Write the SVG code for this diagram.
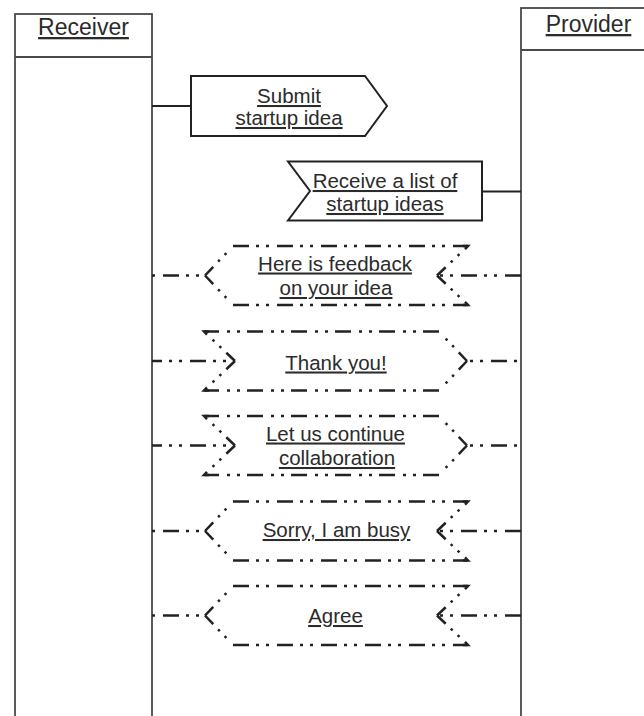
<svg xmlns="http://www.w3.org/2000/svg" xmlns:xlink="http://www.w3.org/1999/xlink" width="644" height="716" viewBox="0 0 644 716">
  <style>
    .lane { fill: #ffffff; stroke: #4a4a4a; stroke-width: 1.8; }
    .sep { stroke: #4a4a4a; stroke-width: 1.8; }
    .head { font-family: "Liberation Sans", Arial, sans-serif; font-size: 23px; fill: #2b2b2b; text-anchor: middle; text-decoration: underline; }
    .lbl { font-family: "Liberation Sans", Arial, sans-serif; font-size: 20.5px; fill: #2b2b2b; text-anchor: middle; text-decoration: underline; }
    .solid { fill: #ffffff; stroke: #222222; stroke-width: 2; stroke-linejoin: miter; }
    .wire { fill: none; stroke: #222222; stroke-width: 1.8; }
    .dd { fill: none; stroke: #222222; stroke-width: 2.5; stroke-dasharray: 16 7 3 7 3 8; }
    .diag { fill: none; stroke: #222222; stroke-width: 2.5; stroke-dasharray: 12 7 2.5 7 2.5 40; }
    .hook { fill: none; stroke: #222222; stroke-width: 2.5; }
  </style>
  <defs>
    <!-- dash-dot-dot chevron box pointing left, centred on y = 0 -->
    <g id="chev-left">
      <path class="dd" d="M233,-29.5 H468"/>
      <path class="dd" d="M233,29.5 H468"/>
      <path class="diag" d="M205,0 L233,-29.5"/>
      <path class="diag" d="M205,0 L233,29.5"/>
      <path class="diag" d="M437,0 L468,-29.5"/>
      <path class="diag" d="M437,0 L468,29.5"/>
      <path class="hook" d="M463,-29.5 H468 L465,-26.3"/>
      <path class="hook" d="M463,29.5 H468 L465,26.3"/>
    </g>
  </defs>

  <!-- lifelines -->
  <g id="receiver">
    <rect class="lane" x="15" y="14" width="137" height="730"/>
    <line class="sep" x1="15" y1="57" x2="152" y2="57"/>
    <text class="head" x="83.5" y="35">Receiver</text>
  </g>
  <g id="provider">
    <rect class="lane" x="521" y="8" width="140" height="730"/>
    <line class="sep" x1="521" y1="50" x2="661" y2="50"/>
    <text class="head" x="588.5" y="32">Provider</text>
  </g>

  <!-- connectors -->
  <g id="connectors">
    <path class="wire" d="M152,106 H191"/>
    <path class="wire" d="M482,191.5 H521"/>
    <!-- feedback -->
    <path class="dd" stroke-dashoffset="33" d="M152,275.5 H205"/>
    <path class="dd" stroke-dashoffset="20" d="M437,275.5 H521"/>
    <!-- thank you -->
    <path class="dd" stroke-dashoffset="6" d="M152,361 H235"/>
    <path class="dd" stroke-dashoffset="20" d="M467,361 H521"/>
    <!-- continue -->
    <path class="dd" stroke-dashoffset="6" d="M152,445.5 H235"/>
    <path class="dd" stroke-dashoffset="20" d="M467,445.5 H521"/>
    <!-- busy -->
    <path class="dd" stroke-dashoffset="33" d="M152,531 H205"/>
    <path class="dd" stroke-dashoffset="20" d="M437,531 H521"/>
    <!-- agree -->
    <path class="dd" stroke-dashoffset="33" d="M152,615.5 H205"/>
    <path class="dd" stroke-dashoffset="20" d="M437,615.5 H521"/>
  </g>

  <!-- messages -->
  <g id="msg-submit">
    <polygon class="solid" points="191,76 365,76 387,106 365,136 191,136"/>
    <text class="lbl" x="289" y="103">Submit</text>
    <text class="lbl" x="289" y="125">startup idea</text>
  </g>
  <g id="msg-receive">
    <polygon class="solid" points="288,161.5 482,161.5 482,220.5 288,220.5 310,191"/>
    <text class="lbl" x="385" y="188">Receive a list of</text>
    <text class="lbl" x="385" y="211">startup ideas</text>
  </g>
  <g id="msg-feedback">
    <use xlink:href="#chev-left" href="#chev-left" transform="translate(0,275.5)"/>
    <text class="lbl" x="335" y="270.5">Here is feedback</text>
    <text class="lbl" x="336" y="295">on your idea</text>
  </g>
  <g id="msg-thanks">
    <use xlink:href="#chev-left" href="#chev-left" transform="translate(672,361) scale(-1,1)"/>
    <text class="lbl" x="336" y="369.5">Thank you!</text>
  </g>
  <g id="msg-continue">
    <use xlink:href="#chev-left" href="#chev-left" transform="translate(672,445.5) scale(-1,1)"/>
    <text class="lbl" x="335.5" y="440.5">Let us continue</text>
    <text class="lbl" x="337" y="465">collaboration</text>
  </g>
  <g id="msg-busy">
    <use xlink:href="#chev-left" href="#chev-left" transform="translate(0,531)"/>
    <text class="lbl" x="336.5" y="537">Sorry, I am busy</text>
  </g>
  <g id="msg-agree">
    <use xlink:href="#chev-left" href="#chev-left" transform="translate(0,615.5)"/>
    <text class="lbl" x="335.5" y="623">Agree</text>
  </g>
</svg>
